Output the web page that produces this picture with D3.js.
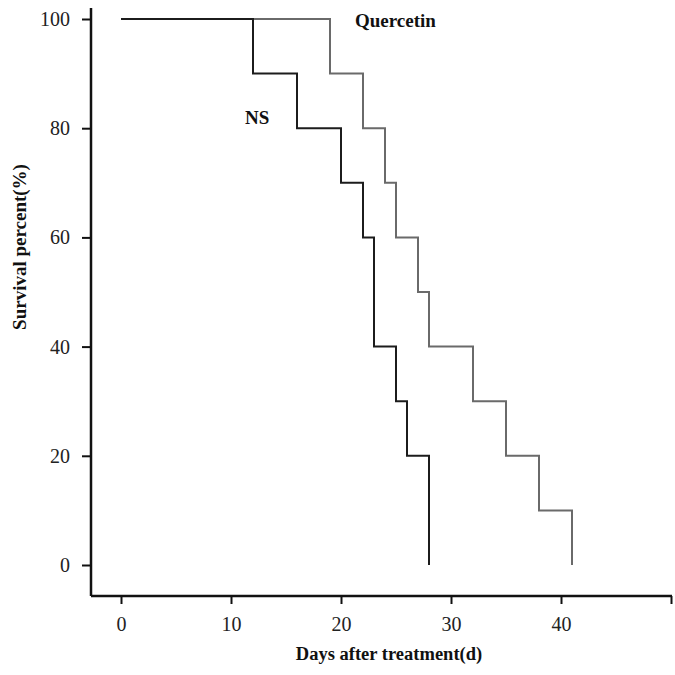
<!DOCTYPE html>
<html>
<head>
<meta charset="utf-8">
<script src="https://cdn.jsdelivr.net/npm/d3@7"></script>
<style>
  body { margin: 0; background: #fff; }
  svg { display: block; }
  .tick text { font-family: "Liberation Serif", "DejaVu Serif", serif; font-size: 20px; fill: #222; }
</style>
</head>
<body>
<svg id="chart" width="675" height="675"></svg>
<script>
// Kaplan-Meier style step data (day, survival %)
const nsDays = [0, 12, 16, 20, 22, 23, 25, 26, 28];
const nsSurvival = [100, 90, 80, 70, 60, 40, 30, 20, 0];
const quercetinDays = [0, 19, 22, 24, 25, 27, 28, 32, 35, 38, 41];
const quercetinSurvival = [100, 90, 80, 70, 60, 50, 40, 30, 20, 10, 0];
const xTicks = [0, 10, 20, 30, 40, 50];
const xTickLabels = ["0", "10", "20", "30", "40", ""]; // last label is cut off in the original
const yTicks = [0, 20, 40, 60, 80, 100];

const svg = d3.select("#chart");

const x = d3.scaleLinear().domain([0, 50]).range([121, 671]);
const y = d3.scaleLinear().domain([0, 100]).range([565, 19]);

const axisX = 596, axisY = 91;

// Axis lines
svg.append("line")
    .attr("x1", axisY).attr("x2", axisY)
    .attr("y1", 8).attr("y2", axisX)
    .attr("stroke", "#111").attr("stroke-width", 2.5);
svg.append("line")
    .attr("x1", axisY).attr("x2", 672)
    .attr("y1", axisX).attr("y2", axisX)
    .attr("stroke", "#111").attr("stroke-width", 2.5);

// X axis ticks
const gx = svg.append("g")
    .attr("transform", `translate(0,${axisX})`)
    .call(d3.axisBottom(x).tickValues(xTicks).tickSize(8).tickPadding(13)
        .tickFormat((d, i) => xTickLabels[i]));
gx.select(".domain").remove();
gx.selectAll(".tick line").attr("stroke", "#111").attr("stroke-width", 2);

// Y axis ticks
const gy = svg.append("g")
    .attr("transform", `translate(${axisY},0)`)
    .call(d3.axisLeft(y).tickValues(yTicks).tickSize(9).tickPadding(12).tickFormat(d3.format("d")));
gy.select(".domain").remove();
gy.selectAll(".tick line").attr("stroke", "#111").attr("stroke-width", 2);

// Step lines
const step = d3.line()
    .x(d => x(d[0]))
    .y(d => y(d[1]))
    .curve(d3.curveStepAfter);

svg.append("path")
    .datum(d3.zip(quercetinDays, quercetinSurvival))
    .attr("d", step)
    .attr("fill", "none")
    .attr("stroke", "#6a6a6a")
    .attr("stroke-width", 2);

svg.append("path")
    .datum(d3.zip(nsDays, nsSurvival))
    .attr("d", step)
    .attr("fill", "none")
    .attr("stroke", "#1c1c1c")
    .attr("stroke-width", 2);

// Series labels
svg.append("text")
    .attr("x", 355).attr("y", 27)
    .attr("font-family", "Liberation Serif, serif")
    .attr("font-weight", "bold")
    .attr("font-size", 19)
    .attr("fill", "#111")
    .text("Quercetin");

svg.append("text")
    .attr("x", 245).attr("y", 124)
    .attr("font-family", "Liberation Serif, serif")
    .attr("font-weight", "bold")
    .attr("font-size", 19)
    .attr("fill", "#111")
    .text("NS");

// Axis titles
svg.append("text")
    .attr("x", 389).attr("y", 660)
    .attr("text-anchor", "middle")
    .attr("font-family", "Liberation Serif, serif")
    .attr("font-weight", "bold")
    .attr("font-size", 18.5)
    .attr("fill", "#111")
    .text("Days after treatment(d)");

svg.append("text")
    .attr("transform", "translate(26,247) rotate(-90)")
    .attr("text-anchor", "middle")
    .attr("font-family", "Liberation Serif, serif")
    .attr("font-weight", "bold")
    .attr("font-size", 19)
    .attr("fill", "#111")
    .text("Survival percent(%)");
</script>
</body>
</html>
